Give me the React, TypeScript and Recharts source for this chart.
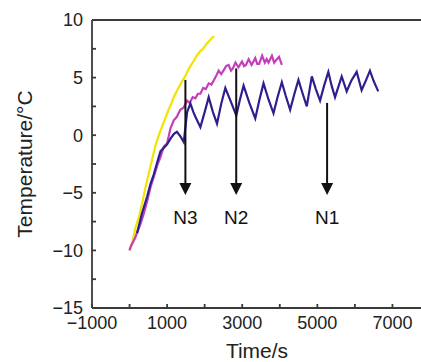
import { LineChart, Line, XAxis, YAxis, ReferenceLine, ReferenceDot } from "recharts";

// time (s) / temperature (°C)
const yellowTime = [0, 80, 160, 250, 337, 420, 513, 600, 690, 780, 870, 956, 1050, 1120, 1177, 1250, 1320, 1400, 1480, 1550, 1620, 1700, 1790, 1886, 1960, 2040, 2100, 2180, 2250];
const yellowTemp = [-10, -9.2, -8, -7.1, -5.9, -4.6, -3.3, -2.1, -0.9, 0, 0.8, 1.5, 2.3, 2.8, 3.3, 3.8, 4.2, 4.7, 5.1, 5.6, 6, 6.4, 6.9, 7.3, 7.5, 7.9, 8.1, 8.4, 8.6];

const magentaTime = [0, 27, 150, 292, 380, 470, 560, 646, 740, 823, 910, 1000, 1090, 1177, 1260, 1350, 1440, 1532, 1600, 1680, 1753, 1820, 1886, 1960, 2030, 2107, 2180, 2284, 2372, 2440, 2500, 2570, 2637, 2700, 2750, 2820, 2900, 2993, 3050, 3100, 3170, 3250, 3347, 3400, 3450, 3530, 3600, 3650, 3700, 3790, 3850, 3900, 3980, 4055];
const magentaTemp = [-10, -9.7, -8.9, -7.7, -6.8, -5.7, -4.5, -3.6, -2.6, -1.9, -1.0, -0.7, 0.6, 1.3, 1.6, 2.2, 2.4, 3.0, 2.8, 3.3, 3.2, 3.6, 3.6, 4.1, 4.0, 4.5, 4.4, 5.0, 5.6, 5.3, 5.6, 6.0, 6.1, 5.6, 5.8, 6.3, 5.9, 6.4, 6.0, 6.1, 6.6, 6.1, 6.7, 6.2, 6.2, 6.9, 6.3, 6.6, 6.3, 6.9, 6.3, 6.5, 6.8, 6.1];

const blueTime = [200, 330, 470, 560, 646, 740, 823, 910, 1000, 1090, 1177, 1260, 1355, 1443, 1532, 1620, 1700, 1753, 1886, 2000, 2107, 2220, 2329, 2440, 2550, 2700, 2842, 2940, 3036, 3190, 3347, 3460, 3567, 3700, 3833, 3940, 4055, 4160, 4276, 4390, 4497, 4610, 4719, 4853, 4960, 5073, 5180, 5293, 5380, 5471, 5649, 5782, 5900, 6048, 6180, 6300, 6401, 6500, 6622];
const blueTemp = [-8.5, -6.8, -5.3, -4.2, -3.4, -2.3, -1.4, -1.1, -0.8, -0.3, 0.1, 0.3, -0.1, -0.6, 2.0, 2.75, 2.0, 1.6, 0.7, 2.0, 3.3, 2.0, 1.0, 2.7, 4.1, 2.9, 1.7, 3.1, 4.3, 2.8, 1.45, 3.1, 4.5, 3.1, 1.9, 3.3, 4.6, 3.4, 2.2, 3.6, 4.8, 3.6, 2.5, 5.1, 4.0, 3.0, 4.3, 5.5, 4.3, 3.3, 5.1, 3.8, 4.7, 5.5, 3.9, 4.8, 5.6, 4.7, 3.8];

// arrows: name, time, top of shaft
const arrowNames = ["N3", "N2", "N1"];
const arrowTime = [1487, 2840, 5260];
const arrowTop = [4.8, 5.8, 2.8];
const arrowBottom = -4.4;
const arrowTip = -5.2;
const arrowLabelY = -7.1;

const xTicks = [-1000, 0, 1000, 2000, 3000, 4000, 5000, 6000, 7000];
const xLabelled = [-1000, 1000, 3000, 5000, 7000];
const yTicks = [-15, -12.5, -10, -7.5, -5, -2.5, 0, 2.5, 5, 7.5, 10];
const yLabelled = [-15, -10, -5, 0, 5, 10];

const toRows = (ts: number[], vs: number[]) => ts.map((t, i) => ({ t, v: vs[i] }));
const yellowData = toRows(yellowTime, yellowTemp);
const magentaData = toRows(magentaTime, magentaTemp);
const blueData = toRows(blueTime, blueTemp);

const fmt = (labelled: number[]) => (v: number) =>
  labelled.includes(v) ? (v < 0 ? "\u2212" + Math.abs(v) : String(v)) : "";

const ArrowHead = (props: any) => {
  const { cx, cy } = props;
  return <path d={`M${cx - 6},${cy - 12} L${cx + 6},${cy - 12} L${cx},${cy} Z`} fill="#111" />;
};

const tickStyle = { fontSize: 18, fill: "#222" };
const axisColor = "#3a3a3a";

export default function App() {
  return (
    <div
      style={{
        position: "absolute",
        left: 8,
        top: 8,
        width: 413,
        height: 354,
        overflow: "hidden",
        fontFamily: "'Liberation Sans', Arial, sans-serif",
      }}
    >
      <LineChart width={430} height={354} margin={{ top: 12, right: 8, bottom: 0, left: 24 }}>
        <XAxis
          type="number"
          dataKey="t"
          domain={[-1000, 8000]}
          ticks={xTicks}
          tickFormatter={fmt(xLabelled)}
          interval={0}
          tick={tickStyle}
          tickSize={-4}
          tickMargin={12}
          height={54}
          stroke={axisColor}
          strokeWidth={1.8}
          allowDataOverflow
          label={{ value: "Time/s", position: "center", dx: -4, dy: 16, fontSize: 21, fill: "#222" }}
        />
        <YAxis
          type="number"
          dataKey="v"
          domain={[-15, 10]}
          ticks={yTicks}
          tickFormatter={fmt(yLabelled)}
          interval={0}
          tick={tickStyle}
          tickSize={-4}
          tickMargin={13}
          width={60}
          stroke={axisColor}
          strokeWidth={1.8}
          allowDataOverflow
          label={{ value: "Temperature/°C", angle: -90, position: "center", dx: -37, fontSize: 21, fill: "#222" }}
        />
        <ReferenceLine y={10} stroke={axisColor} strokeWidth={1.8} />
        <Line data={yellowData} dataKey="v" type="linear" stroke="#f0e400" strokeWidth={2.2} dot={false} isAnimationActive={false} />
        <Line data={magentaData} dataKey="v" type="linear" stroke="#c63dbb" strokeWidth={2.2} dot={false} isAnimationActive={false} />
        <Line data={blueData} dataKey="v" type="linear" stroke="#2d1f8e" strokeWidth={2.2} dot={false} isAnimationActive={false} />
        {arrowNames.map((name, i) => (
          <ReferenceLine
            key={"s" + name}
            segment={[
              { x: arrowTime[i], y: arrowTop[i] },
              { x: arrowTime[i], y: arrowBottom },
            ]}
            stroke="#111"
            strokeWidth={2}
          />
        ))}
        {arrowNames.map((name, i) => (
          <ReferenceDot key={"h" + name} x={arrowTime[i]} y={arrowTip} shape={ArrowHead} />
        ))}
        {arrowNames.map((name, i) => (
          <ReferenceDot
            key={"l" + name}
            x={arrowTime[i]}
            y={arrowLabelY}
            r={0}
            stroke="none"
            fill="none"
            label={{ value: name, position: "center", fontSize: 19, fill: "#111" }}
          />
        ))}
      </LineChart>
    </div>
  );
}
